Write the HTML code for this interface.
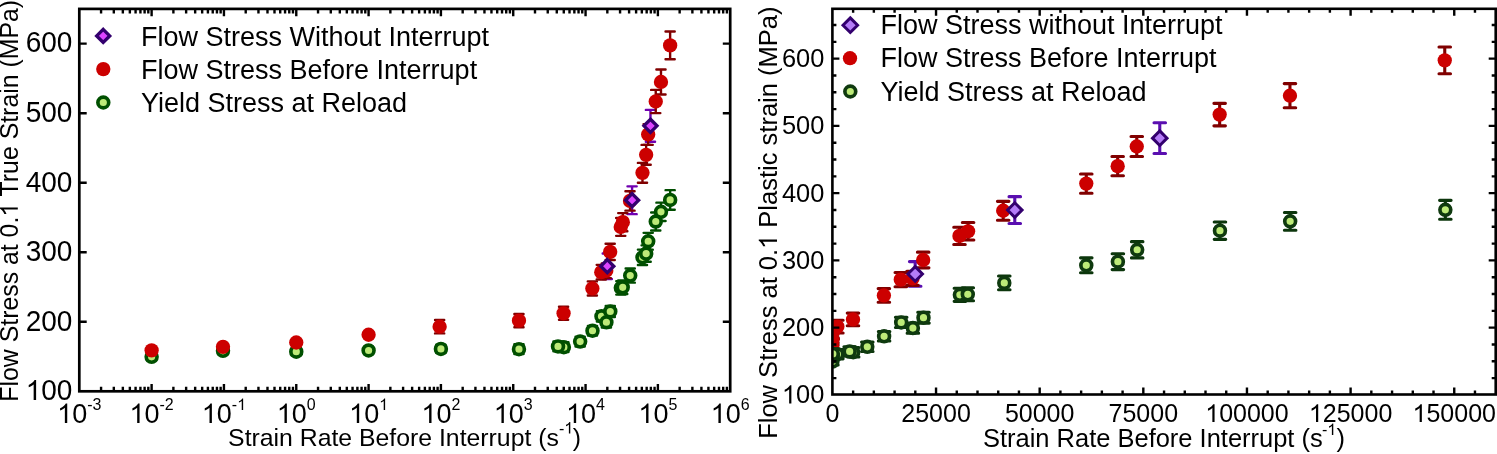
<!DOCTYPE html><html><head><meta charset="utf-8"><style>html,body{margin:0;padding:0;background:#fff;overflow:hidden}svg{display:block;will-change:transform}text{font-family:"Liberation Sans", sans-serif}</style></head><body>
<svg width="1497" height="454" viewBox="0 0 1497 454">
<rect width="1497" height="454" fill="#fff"/>
<defs><clipPath id="cl"><rect x="79.3" y="8.9" width="650.9" height="382.4"/></clipPath>
<clipPath id="cr"><rect x="832.4" y="8.8" width="663.3" height="385.7"/></clipPath></defs>
<g clip-path="url(#cl)">
<path d="M151.62 353.34V360.29M147.02 353.34H156.22M147.02 360.29H156.22" stroke="#004d00" stroke-width="2.4" fill="none" stroke-linecap="round"/>
<path d="M222.99 347.36V354.31M218.39 347.36H227.59M218.39 354.31H227.59" stroke="#004d00" stroke-width="2.4" fill="none" stroke-linecap="round"/>
<path d="M296.27 348.19V355.15M291.67 348.19H300.87M291.67 355.15H300.87" stroke="#004d00" stroke-width="2.4" fill="none" stroke-linecap="round"/>
<path d="M368.59 347.01V353.96M363.99 347.01H373.19M363.99 353.96H373.19" stroke="#004d00" stroke-width="2.4" fill="none" stroke-linecap="round"/>
<path d="M440.91 344.72V353.06M436.31 344.72H445.51M436.31 353.06H445.51" stroke="#004d00" stroke-width="2.4" fill="none" stroke-linecap="round"/>
<path d="M518.96 344.3V354.03M514.36 344.3H523.56M514.36 354.03H523.56" stroke="#004d00" stroke-width="2.4" fill="none" stroke-linecap="round"/>
<path d="M563.86 342.28V352.02M559.26 342.28H568.46M559.26 352.02H568.46" stroke="#004d00" stroke-width="2.4" fill="none" stroke-linecap="round"/>
<path d="M558.01 341.52V351.25M553.41 341.52H562.61M553.41 351.25H562.61" stroke="#004d00" stroke-width="2.4" fill="none" stroke-linecap="round"/>
<path d="M580.15 336.72V346.45M575.55 336.72H584.75M575.55 346.45H584.75" stroke="#004d00" stroke-width="2.4" fill="none" stroke-linecap="round"/>
<path d="M592.49 325.87V335.61M587.89 325.87H597.09M587.89 335.61H597.09" stroke="#004d00" stroke-width="2.4" fill="none" stroke-linecap="round"/>
<path d="M601.46 311.14V321.56M596.86 311.14H606.06M596.86 321.56H606.06" stroke="#004d00" stroke-width="2.4" fill="none" stroke-linecap="round"/>
<path d="M606.4 317.04V327.47M601.8 317.04H611M601.8 327.47H611" stroke="#004d00" stroke-width="2.4" fill="none" stroke-linecap="round"/>
<path d="M610.28 305.92V317.04M605.68 305.92H614.88M605.68 317.04H614.88" stroke="#004d00" stroke-width="2.4" fill="none" stroke-linecap="round"/>
<path d="M620.84 281.1V294.59M616.24 281.1H625.44M616.24 294.59H625.44" stroke="#004d00" stroke-width="2.4" fill="none" stroke-linecap="round"/>
<path d="M622.73 280.54V294.03M618.13 280.54H627.33M618.13 294.03H627.33" stroke="#004d00" stroke-width="2.4" fill="none" stroke-linecap="round"/>
<path d="M630.22 268.45V282.63M625.62 268.45H634.82M625.62 282.63H634.82" stroke="#004d00" stroke-width="2.4" fill="none" stroke-linecap="round"/>
<path d="M642.48 249.6V265.04M637.88 249.6H647.08M637.88 265.04H647.08" stroke="#004d00" stroke-width="2.4" fill="none" stroke-linecap="round"/>
<path d="M646.16 245.36V261.77M641.56 245.36H650.76M641.56 261.77H650.76" stroke="#004d00" stroke-width="2.4" fill="none" stroke-linecap="round"/>
<path d="M648.21 232.85V249.67M643.61 232.85H652.81M643.61 249.67H652.81" stroke="#004d00" stroke-width="2.4" fill="none" stroke-linecap="round"/>
<path d="M655.76 212.55V230.48M651.16 212.55H660.36M651.16 230.48H660.36" stroke="#004d00" stroke-width="2.4" fill="none" stroke-linecap="round"/>
<path d="M660.99 202.67V221.03M656.39 202.67H665.59M656.39 221.03H665.59" stroke="#004d00" stroke-width="2.4" fill="none" stroke-linecap="round"/>
<path d="M670.16 190.16V209.76M665.56 190.16H674.76M665.56 209.76H674.76" stroke="#004d00" stroke-width="2.4" fill="none" stroke-linecap="round"/>
<circle cx="151.62" cy="356.81" r="5.42" fill="#bdeb78" stroke="#005000" stroke-width="3.65"/>
<circle cx="222.99" cy="350.84" r="5.42" fill="#bdeb78" stroke="#005000" stroke-width="3.65"/>
<circle cx="296.27" cy="351.67" r="5.42" fill="#bdeb78" stroke="#005000" stroke-width="3.65"/>
<circle cx="368.59" cy="350.49" r="5.42" fill="#bdeb78" stroke="#005000" stroke-width="3.65"/>
<circle cx="440.91" cy="348.89" r="5.42" fill="#bdeb78" stroke="#005000" stroke-width="3.65"/>
<circle cx="518.96" cy="349.17" r="5.42" fill="#bdeb78" stroke="#005000" stroke-width="3.65"/>
<circle cx="563.86" cy="347.15" r="5.42" fill="#bdeb78" stroke="#005000" stroke-width="3.65"/>
<circle cx="558.01" cy="346.39" r="5.42" fill="#bdeb78" stroke="#005000" stroke-width="3.65"/>
<circle cx="580.15" cy="341.59" r="5.42" fill="#bdeb78" stroke="#005000" stroke-width="3.65"/>
<circle cx="592.49" cy="330.74" r="5.42" fill="#bdeb78" stroke="#005000" stroke-width="3.65"/>
<circle cx="601.46" cy="316.35" r="5.42" fill="#bdeb78" stroke="#005000" stroke-width="3.65"/>
<circle cx="606.4" cy="322.26" r="5.42" fill="#bdeb78" stroke="#005000" stroke-width="3.65"/>
<circle cx="610.28" cy="311.48" r="5.42" fill="#bdeb78" stroke="#005000" stroke-width="3.65"/>
<circle cx="620.84" cy="287.84" r="5.42" fill="#bdeb78" stroke="#005000" stroke-width="3.65"/>
<circle cx="622.73" cy="287.29" r="5.42" fill="#bdeb78" stroke="#005000" stroke-width="3.65"/>
<circle cx="630.22" cy="275.54" r="5.42" fill="#bdeb78" stroke="#005000" stroke-width="3.65"/>
<circle cx="642.48" cy="257.32" r="5.42" fill="#bdeb78" stroke="#005000" stroke-width="3.65"/>
<circle cx="646.16" cy="253.57" r="5.42" fill="#bdeb78" stroke="#005000" stroke-width="3.65"/>
<circle cx="648.21" cy="241.26" r="5.42" fill="#bdeb78" stroke="#005000" stroke-width="3.65"/>
<circle cx="655.76" cy="221.51" r="5.42" fill="#bdeb78" stroke="#005000" stroke-width="3.65"/>
<circle cx="660.99" cy="211.85" r="5.42" fill="#bdeb78" stroke="#005000" stroke-width="3.65"/>
<circle cx="670.16" cy="199.96" r="5.42" fill="#bdeb78" stroke="#005000" stroke-width="3.65"/>
<path d="M607.28 253.5V278.94M602.68 253.5H611.88M602.68 278.94H611.88" stroke="#7000b0" stroke-width="2.4" fill="none" stroke-linecap="round"/>
<path d="M632.09 186.33V214.14M627.49 186.33H636.69M627.49 214.14H636.69" stroke="#7000b0" stroke-width="2.4" fill="none" stroke-linecap="round"/>
<path d="M650.46 109.92V141.77M645.86 109.92H655.06M645.86 141.77H655.06" stroke="#7000b0" stroke-width="2.4" fill="none" stroke-linecap="round"/>
<path d="M151.62 347.57V353.13M147.02 347.57H156.22M147.02 353.13H156.22" stroke="#800000" stroke-width="2.4" fill="none" stroke-linecap="round"/>
<path d="M222.99 344.09V349.65M218.39 344.09H227.59M218.39 349.65H227.59" stroke="#800000" stroke-width="2.4" fill="none" stroke-linecap="round"/>
<path d="M296.27 339.71V345.27M291.67 339.71H300.87M291.67 345.27H300.87" stroke="#800000" stroke-width="2.4" fill="none" stroke-linecap="round"/>
<path d="M368.59 331.99V337.56M363.99 331.99H373.19M363.99 337.56H373.19" stroke="#800000" stroke-width="2.4" fill="none" stroke-linecap="round"/>
<path d="M439.63 320.03V333.38M435.03 320.03H444.23M435.03 333.38H444.23" stroke="#800000" stroke-width="2.4" fill="none" stroke-linecap="round"/>
<path d="M518.96 314.06V327.27M514.36 314.06H523.56M514.36 327.27H523.56" stroke="#800000" stroke-width="2.4" fill="none" stroke-linecap="round"/>
<path d="M563.57 306.75V319.83M558.97 306.75H568.17M558.97 319.83H568.17" stroke="#800000" stroke-width="2.4" fill="none" stroke-linecap="round"/>
<path d="M592.36 281.38V295.56M587.76 281.38H596.96M587.76 295.56H596.96" stroke="#800000" stroke-width="2.4" fill="none" stroke-linecap="round"/>
<path d="M601.28 264.83V279.43M596.68 264.83H605.88M596.68 279.43H605.88" stroke="#800000" stroke-width="2.4" fill="none" stroke-linecap="round"/>
<path d="M606.26 263.51V278.11M601.66 263.51H610.86M601.66 278.11H610.86" stroke="#800000" stroke-width="2.4" fill="none" stroke-linecap="round"/>
<path d="M610.18 243.69V259.96M605.58 243.69H614.78M605.58 259.96H614.78" stroke="#800000" stroke-width="2.4" fill="none" stroke-linecap="round"/>
<path d="M620.74 218.04V235.84M616.14 218.04H625.34M616.14 235.84H625.34" stroke="#800000" stroke-width="2.4" fill="none" stroke-linecap="round"/>
<path d="M622.8 213.1V231.18M618.2 213.1H627.4M618.2 231.18H627.4" stroke="#800000" stroke-width="2.4" fill="none" stroke-linecap="round"/>
<path d="M630.02 191.2V210.67M625.42 191.2H634.62M625.42 210.67H634.62" stroke="#800000" stroke-width="2.4" fill="none" stroke-linecap="round"/>
<path d="M642.48 162.9V182.79M637.88 162.9H647.08M637.88 182.79H647.08" stroke="#800000" stroke-width="2.4" fill="none" stroke-linecap="round"/>
<path d="M646.14 144.9V164.78M641.54 144.9H650.74M641.54 164.78H650.74" stroke="#800000" stroke-width="2.4" fill="none" stroke-linecap="round"/>
<path d="M648.17 124.11V144.83M643.57 124.11H652.77M643.57 144.83H652.77" stroke="#800000" stroke-width="2.4" fill="none" stroke-linecap="round"/>
<path d="M655.74 89.9V113.12M651.14 89.9H660.34M651.14 113.12H660.34" stroke="#800000" stroke-width="2.4" fill="none" stroke-linecap="round"/>
<path d="M660.98 69.46V94.49M656.38 69.46H665.58M656.38 94.49H665.58" stroke="#800000" stroke-width="2.4" fill="none" stroke-linecap="round"/>
<path d="M670.13 31.57V59.24M665.53 31.57H674.73M665.53 59.24H674.73" stroke="#800000" stroke-width="2.4" fill="none" stroke-linecap="round"/>
<circle cx="151.62" cy="350.35" r="7.15" fill="#cc0000"/>
<circle cx="222.99" cy="346.87" r="7.15" fill="#cc0000"/>
<circle cx="296.27" cy="342.49" r="7.15" fill="#cc0000"/>
<circle cx="368.59" cy="334.77" r="7.15" fill="#cc0000"/>
<circle cx="439.63" cy="326.71" r="7.15" fill="#cc0000"/>
<circle cx="518.96" cy="320.66" r="7.15" fill="#cc0000"/>
<circle cx="563.57" cy="313.29" r="7.15" fill="#cc0000"/>
<circle cx="592.36" cy="288.47" r="7.15" fill="#cc0000"/>
<circle cx="601.28" cy="272.13" r="7.15" fill="#cc0000"/>
<circle cx="606.26" cy="270.81" r="7.15" fill="#cc0000"/>
<circle cx="610.18" cy="251.83" r="7.15" fill="#cc0000"/>
<circle cx="620.74" cy="226.94" r="7.15" fill="#cc0000"/>
<circle cx="622.8" cy="222.14" r="7.15" fill="#cc0000"/>
<circle cx="630.02" cy="200.93" r="7.15" fill="#cc0000"/>
<circle cx="642.48" cy="172.85" r="7.15" fill="#cc0000"/>
<circle cx="646.14" cy="154.84" r="7.15" fill="#cc0000"/>
<circle cx="648.17" cy="134.47" r="7.15" fill="#cc0000"/>
<circle cx="655.74" cy="101.51" r="7.15" fill="#cc0000"/>
<circle cx="660.98" cy="81.97" r="7.15" fill="#cc0000"/>
<circle cx="670.13" cy="45.4" r="7.15" fill="#cc0000"/>
<path d="M607.28 259.67L613.83 266.22L607.28 272.77L600.73 266.22Z" fill="#dd44ff" stroke="#33006e" stroke-width="3.3" stroke-linejoin="miter"/>
<path d="M632.09 193.69L638.64 200.24L632.09 206.79L625.54 200.24Z" fill="#dd44ff" stroke="#33006e" stroke-width="3.3" stroke-linejoin="miter"/>
<path d="M650.46 119.29L657.01 125.84L650.46 132.39L643.91 125.84Z" fill="#dd44ff" stroke="#33006e" stroke-width="3.3" stroke-linejoin="miter"/>
</g>
<path d="M101.07 391.3v-4.6M101.07 8.9v4.6M113.81 391.3v-4.6M113.81 8.9v4.6M122.84 391.3v-4.6M122.84 8.9v4.6M129.85 391.3v-4.6M129.85 8.9v4.6M135.58 391.3v-4.6M135.58 8.9v4.6M140.42 391.3v-4.6M140.42 8.9v4.6M144.61 391.3v-4.6M144.61 8.9v4.6M148.31 391.3v-4.6M148.31 8.9v4.6M151.62 391.3v-7.3M151.62 8.9v7.3M173.39 391.3v-4.6M173.39 8.9v4.6M186.13 391.3v-4.6M186.13 8.9v4.6M195.16 391.3v-4.6M195.16 8.9v4.6M202.17 391.3v-4.6M202.17 8.9v4.6M207.9 391.3v-4.6M207.9 8.9v4.6M212.74 391.3v-4.6M212.74 8.9v4.6M216.94 391.3v-4.6M216.94 8.9v4.6M220.64 391.3v-4.6M220.64 8.9v4.6M223.94 391.3v-7.3M223.94 8.9v7.3M245.72 391.3v-4.6M245.72 8.9v4.6M258.45 391.3v-4.6M258.45 8.9v4.6M267.49 391.3v-4.6M267.49 8.9v4.6M274.5 391.3v-4.6M274.5 8.9v4.6M280.22 391.3v-4.6M280.22 8.9v4.6M285.06 391.3v-4.6M285.06 8.9v4.6M289.26 391.3v-4.6M289.26 8.9v4.6M292.96 391.3v-4.6M292.96 8.9v4.6M296.27 391.3v-7.3M296.27 8.9v7.3M318.04 391.3v-4.6M318.04 8.9v4.6M330.77 391.3v-4.6M330.77 8.9v4.6M339.81 391.3v-4.6M339.81 8.9v4.6M346.82 391.3v-4.6M346.82 8.9v4.6M352.54 391.3v-4.6M352.54 8.9v4.6M357.39 391.3v-4.6M357.39 8.9v4.6M361.58 391.3v-4.6M361.58 8.9v4.6M365.28 391.3v-4.6M365.28 8.9v4.6M368.59 391.3v-7.3M368.59 8.9v7.3M390.36 391.3v-4.6M390.36 8.9v4.6M403.1 391.3v-4.6M403.1 8.9v4.6M412.13 391.3v-4.6M412.13 8.9v4.6M419.14 391.3v-4.6M419.14 8.9v4.6M424.87 391.3v-4.6M424.87 8.9v4.6M429.71 391.3v-4.6M429.71 8.9v4.6M433.9 391.3v-4.6M433.9 8.9v4.6M437.6 391.3v-4.6M437.6 8.9v4.6M440.91 391.3v-7.3M440.91 8.9v7.3M462.68 391.3v-4.6M462.68 8.9v4.6M475.42 391.3v-4.6M475.42 8.9v4.6M484.45 391.3v-4.6M484.45 8.9v4.6M491.46 391.3v-4.6M491.46 8.9v4.6M497.19 391.3v-4.6M497.19 8.9v4.6M502.03 391.3v-4.6M502.03 8.9v4.6M506.22 391.3v-4.6M506.22 8.9v4.6M509.92 391.3v-4.6M509.92 8.9v4.6M513.23 391.3v-7.3M513.23 8.9v7.3M535 391.3v-4.6M535 8.9v4.6M547.74 391.3v-4.6M547.74 8.9v4.6M556.78 391.3v-4.6M556.78 8.9v4.6M563.78 391.3v-4.6M563.78 8.9v4.6M569.51 391.3v-4.6M569.51 8.9v4.6M574.35 391.3v-4.6M574.35 8.9v4.6M578.55 391.3v-4.6M578.55 8.9v4.6M582.25 391.3v-4.6M582.25 8.9v4.6M585.56 391.3v-7.3M585.56 8.9v7.3M607.33 391.3v-4.6M607.33 8.9v4.6M620.06 391.3v-4.6M620.06 8.9v4.6M629.1 391.3v-4.6M629.1 8.9v4.6M636.11 391.3v-4.6M636.11 8.9v4.6M641.83 391.3v-4.6M641.83 8.9v4.6M646.67 391.3v-4.6M646.67 8.9v4.6M650.87 391.3v-4.6M650.87 8.9v4.6M654.57 391.3v-4.6M654.57 8.9v4.6M657.88 391.3v-7.3M657.88 8.9v7.3M679.65 391.3v-4.6M679.65 8.9v4.6M692.38 391.3v-4.6M692.38 8.9v4.6M701.42 391.3v-4.6M701.42 8.9v4.6M708.43 391.3v-4.6M708.43 8.9v4.6M714.16 391.3v-4.6M714.16 8.9v4.6M719 391.3v-4.6M719 8.9v4.6M723.19 391.3v-4.6M723.19 8.9v4.6M726.89 391.3v-4.6M726.89 8.9v4.6M79.3 321.77h7.4M730.2 321.77h-7.4M79.3 252.25h7.4M730.2 252.25h-7.4M79.3 182.72h7.4M730.2 182.72h-7.4M79.3 113.19h7.4M730.2 113.19h-7.4M79.3 43.66h7.4M730.2 43.66h-7.4" stroke="#000" stroke-width="2.4" fill="none"/>
<rect x="79.3" y="8.9" width="650.9" height="382.4" fill="none" stroke="#000" stroke-width="2.7"/>
<text transform="translate(25.68 400.1) scale(1 1.04)" font-size="28"> 00</text><path d="M763 0L583 0L583 1147Q518 1085 421 1028Q324 971 222 933L222 1107Q390 1186 499 1282Q608 1379 654 1466L763 1466Z" transform="matrix(0.013672 0 0 -0.013672 25.68 400.1)"/>
<text transform="translate(25.68 330.57) scale(1 1.04)" font-size="28">200</text>
<text transform="translate(25.68 261.05) scale(1 1.04)" font-size="28">300</text>
<text transform="translate(25.68 191.52) scale(1 1.04)" font-size="28">400</text>
<text transform="translate(25.68 121.99) scale(1 1.04)" font-size="28">500</text>
<text transform="translate(25.68 52.46) scale(1 1.04)" font-size="28">600</text>
<text transform="translate(57.17 422.9) scale(1 1.04)" font-size="27"> 0</text><path d="M763 0L583 0L583 1147Q518 1085 421 1028Q324 971 222 933L222 1107Q390 1186 499 1282Q608 1379 654 1466L763 1466Z" transform="matrix(0.013184 0 0 -0.013184 57.17 422.9)"/>
<text transform="translate(87.2 409.9) scale(1 1.04)" font-size="16">-3</text>
<text transform="translate(129.49 422.9) scale(1 1.04)" font-size="27"> 0</text><path d="M763 0L583 0L583 1147Q518 1085 421 1028Q324 971 222 933L222 1107Q390 1186 499 1282Q608 1379 654 1466L763 1466Z" transform="matrix(0.013184 0 0 -0.013184 129.49 422.9)"/>
<text transform="translate(159.53 409.9) scale(1 1.04)" font-size="16">-2</text>
<text transform="translate(201.82 422.9) scale(1 1.04)" font-size="27"> 0</text><path d="M763 0L583 0L583 1147Q518 1085 421 1028Q324 971 222 933L222 1107Q390 1186 499 1282Q608 1379 654 1466L763 1466Z" transform="matrix(0.013184 0 0 -0.013184 201.82 422.9)"/>
<text transform="translate(231.85 409.9) scale(1 1.04)" font-size="16">- </text><path d="M763 0L583 0L583 1147Q518 1085 421 1028Q324 971 222 933L222 1107Q390 1186 499 1282Q608 1379 654 1466L763 1466Z" transform="matrix(0.007812 0 0 -0.007812 237.18 409.9)"/>
<text transform="translate(276.8 422.9) scale(1 1.04)" font-size="27"> 0</text><path d="M763 0L583 0L583 1147Q518 1085 421 1028Q324 971 222 933L222 1107Q390 1186 499 1282Q608 1379 654 1466L763 1466Z" transform="matrix(0.013184 0 0 -0.013184 276.8 422.9)"/>
<text transform="translate(306.83 409.9) scale(1 1.04)" font-size="16">0</text>
<text transform="translate(349.12 422.9) scale(1 1.04)" font-size="27"> 0</text><path d="M763 0L583 0L583 1147Q518 1085 421 1028Q324 971 222 933L222 1107Q390 1186 499 1282Q608 1379 654 1466L763 1466Z" transform="matrix(0.013184 0 0 -0.013184 349.12 422.9)"/>
<text transform="translate(379.16 409.9) scale(1 1.04)" font-size="16"> </text><path d="M763 0L583 0L583 1147Q518 1085 421 1028Q324 971 222 933L222 1107Q390 1186 499 1282Q608 1379 654 1466L763 1466Z" transform="matrix(0.007812 0 0 -0.007812 379.16 409.9)"/>
<text transform="translate(421.45 422.9) scale(1 1.04)" font-size="27"> 0</text><path d="M763 0L583 0L583 1147Q518 1085 421 1028Q324 971 222 933L222 1107Q390 1186 499 1282Q608 1379 654 1466L763 1466Z" transform="matrix(0.013184 0 0 -0.013184 421.45 422.9)"/>
<text transform="translate(451.48 409.9) scale(1 1.04)" font-size="16">2</text>
<text transform="translate(493.77 422.9) scale(1 1.04)" font-size="27"> 0</text><path d="M763 0L583 0L583 1147Q518 1085 421 1028Q324 971 222 933L222 1107Q390 1186 499 1282Q608 1379 654 1466L763 1466Z" transform="matrix(0.013184 0 0 -0.013184 493.77 422.9)"/>
<text transform="translate(523.8 409.9) scale(1 1.04)" font-size="16">3</text>
<text transform="translate(566.09 422.9) scale(1 1.04)" font-size="27"> 0</text><path d="M763 0L583 0L583 1147Q518 1085 421 1028Q324 971 222 933L222 1107Q390 1186 499 1282Q608 1379 654 1466L763 1466Z" transform="matrix(0.013184 0 0 -0.013184 566.09 422.9)"/>
<text transform="translate(596.12 409.9) scale(1 1.04)" font-size="16">4</text>
<text transform="translate(638.41 422.9) scale(1 1.04)" font-size="27"> 0</text><path d="M763 0L583 0L583 1147Q518 1085 421 1028Q324 971 222 933L222 1107Q390 1186 499 1282Q608 1379 654 1466L763 1466Z" transform="matrix(0.013184 0 0 -0.013184 638.41 422.9)"/>
<text transform="translate(668.44 409.9) scale(1 1.04)" font-size="16">5</text>
<text transform="translate(710.73 422.9) scale(1 1.04)" font-size="27"> 0</text><path d="M763 0L583 0L583 1147Q518 1085 421 1028Q324 971 222 933L222 1107Q390 1186 499 1282Q608 1379 654 1466L763 1466Z" transform="matrix(0.013184 0 0 -0.013184 710.73 422.9)"/>
<text transform="translate(740.77 409.9) scale(1 1.04)" font-size="16">6</text>
<text x="228.1" y="446" font-size="24.8">Strain Rate Before Interrupt (s</text>
<text transform="translate(559 433.5) scale(1 1)" font-size="16">- </text><path d="M763 0L583 0L583 1147Q518 1085 421 1028Q324 971 222 933L222 1107Q390 1186 499 1282Q608 1379 654 1466L763 1466Z" transform="matrix(0.007812 0 0 -0.007812 564.33 433.5)"/>
<text x="572.8" y="446" font-size="24.8">)</text>
<g transform="translate(17.8 401.7) rotate(-90)"><text font-size="24.85">Flow Stress at 0.  True Strain (MPa)</text><path d="M763 0L583 0L583 1147Q518 1085 421 1028Q324 971 222 933L222 1107Q390 1186 499 1282Q608 1379 654 1466L763 1466Z" transform="matrix(0.012134 0 0 -0.012134 185.04 0)"/></g>
<path d="M103.2 29.35L109.75 35.9L103.2 42.45L96.65 35.9Z" fill="#dd44ff" stroke="#33006e" stroke-width="3.3" stroke-linejoin="miter"/>
<circle cx="103.3" cy="69.1" r="7.15" fill="#cc0000"/>
<circle cx="103.3" cy="102.5" r="5.42" fill="#bdeb78" stroke="#005000" stroke-width="3.65"/>
<text x="141" y="45.9" font-size="27">Flow Stress Without Interrupt</text>
<text x="141" y="79" font-size="27">Flow Stress Before Interrupt</text>
<text x="141" y="112" font-size="27">Yield Stress at Reload</text>
<g clip-path="url(#cr)">
<path d="M915.19 261.61V286.22M909.44 261.61H920.94M909.44 286.22H920.94" stroke="#5a0fb0" stroke-width="3.1" fill="none" stroke-linecap="round"/>
<path d="M1014.78 196.65V223.55M1009.03 196.65H1020.53M1009.03 223.55H1020.53" stroke="#5a0fb0" stroke-width="3.1" fill="none" stroke-linecap="round"/>
<path d="M1159.77 122.74V153.54M1154.02 122.74H1165.52M1154.02 153.54H1165.52" stroke="#5a0fb0" stroke-width="3.1" fill="none" stroke-linecap="round"/>
<path d="M832.4 352.6V357.98M826.65 352.6H838.15M826.65 357.98H838.15" stroke="#800000" stroke-width="3.1" fill="none" stroke-linecap="round"/>
<path d="M832.4 349.24V354.62M826.65 349.24H838.15M826.65 354.62H838.15" stroke="#800000" stroke-width="3.1" fill="none" stroke-linecap="round"/>
<path d="M832.4 345V350.38M826.65 345H838.15M826.65 350.38H838.15" stroke="#800000" stroke-width="3.1" fill="none" stroke-linecap="round"/>
<path d="M832.44 337.54V342.92M826.69 337.54H838.19M826.69 342.92H838.19" stroke="#800000" stroke-width="3.1" fill="none" stroke-linecap="round"/>
<path d="M832.8 325.97V338.88M827.05 325.97H838.55M827.05 338.88H838.55" stroke="#800000" stroke-width="3.1" fill="none" stroke-linecap="round"/>
<path d="M837.37 320.19V332.96M831.62 320.19H843.12M831.62 332.96H843.12" stroke="#800000" stroke-width="3.1" fill="none" stroke-linecap="round"/>
<path d="M852.99 313.12V325.77M847.24 313.12H858.74M847.24 325.77H858.74" stroke="#800000" stroke-width="3.1" fill="none" stroke-linecap="round"/>
<path d="M883.89 288.58V302.3M878.14 288.58H889.64M878.14 302.3H889.64" stroke="#800000" stroke-width="3.1" fill="none" stroke-linecap="round"/>
<path d="M900.79 272.57V286.69M895.04 272.57H906.54M895.04 286.69H906.54" stroke="#800000" stroke-width="3.1" fill="none" stroke-linecap="round"/>
<path d="M912.53 271.29V285.42M906.78 271.29H918.28M906.78 285.42H918.28" stroke="#800000" stroke-width="3.1" fill="none" stroke-linecap="round"/>
<path d="M923.19 252.13V267.86M917.44 252.13H928.94M917.44 267.86H928.94" stroke="#800000" stroke-width="3.1" fill="none" stroke-linecap="round"/>
<path d="M959.49 227.31V244.53M953.74 227.31H965.24M953.74 244.53H965.24" stroke="#800000" stroke-width="3.1" fill="none" stroke-linecap="round"/>
<path d="M968.09 222.54V240.02M962.34 222.54H973.84M962.34 240.02H973.84" stroke="#800000" stroke-width="3.1" fill="none" stroke-linecap="round"/>
<path d="M1003.19 201.35V220.18M997.44 201.35H1008.94M997.44 220.18H1008.94" stroke="#800000" stroke-width="3.1" fill="none" stroke-linecap="round"/>
<path d="M1086.28 173.98V193.22M1080.53 173.98H1092.03M1080.53 193.22H1092.03" stroke="#800000" stroke-width="3.1" fill="none" stroke-linecap="round"/>
<path d="M1117.68 156.57V175.8M1111.93 156.57H1123.43M1111.93 175.8H1123.43" stroke="#800000" stroke-width="3.1" fill="none" stroke-linecap="round"/>
<path d="M1136.77 136.46V156.5M1131.02 136.46H1142.52M1131.02 156.5H1142.52" stroke="#800000" stroke-width="3.1" fill="none" stroke-linecap="round"/>
<path d="M1219.66 103.37V125.83M1213.91 103.37H1225.41M1213.91 125.83H1225.41" stroke="#800000" stroke-width="3.1" fill="none" stroke-linecap="round"/>
<path d="M1289.95 83.6V107.81M1284.2 83.6H1295.7M1284.2 107.81H1295.7" stroke="#800000" stroke-width="3.1" fill="none" stroke-linecap="round"/>
<path d="M1444.75 46.95V73.71M1439 46.95H1450.5M1439 73.71H1450.5" stroke="#800000" stroke-width="3.1" fill="none" stroke-linecap="round"/>
<circle cx="832.4" cy="355.29" r="7.15" fill="#cc0000"/>
<circle cx="832.4" cy="351.93" r="7.15" fill="#cc0000"/>
<circle cx="832.4" cy="347.69" r="7.15" fill="#cc0000"/>
<circle cx="832.44" cy="340.23" r="7.15" fill="#cc0000"/>
<circle cx="832.8" cy="332.42" r="7.15" fill="#cc0000"/>
<circle cx="837.37" cy="326.57" r="7.15" fill="#cc0000"/>
<circle cx="852.99" cy="319.45" r="7.15" fill="#cc0000"/>
<circle cx="883.89" cy="295.44" r="7.15" fill="#cc0000"/>
<circle cx="900.79" cy="279.63" r="7.15" fill="#cc0000"/>
<circle cx="912.53" cy="278.36" r="7.15" fill="#cc0000"/>
<circle cx="923.19" cy="260" r="7.15" fill="#cc0000"/>
<circle cx="959.49" cy="235.92" r="7.15" fill="#cc0000"/>
<circle cx="968.09" cy="231.28" r="7.15" fill="#cc0000"/>
<circle cx="1003.19" cy="210.77" r="7.15" fill="#cc0000"/>
<circle cx="1086.28" cy="183.6" r="7.15" fill="#cc0000"/>
<circle cx="1117.68" cy="166.18" r="7.15" fill="#cc0000"/>
<circle cx="1136.77" cy="146.48" r="7.15" fill="#cc0000"/>
<circle cx="1219.66" cy="114.6" r="7.15" fill="#cc0000"/>
<circle cx="1289.95" cy="95.7" r="7.15" fill="#cc0000"/>
<circle cx="1444.75" cy="60.33" r="7.15" fill="#cc0000"/>
<path d="M915.19 266.62L922.49 273.92L915.19 281.22L907.89 273.92Z" fill="#b57cf8" stroke="#33006e" stroke-width="2.95" stroke-linejoin="miter"/>
<path d="M1014.78 202.8L1022.08 210.1L1014.78 217.4L1007.48 210.1Z" fill="#b57cf8" stroke="#33006e" stroke-width="2.95" stroke-linejoin="miter"/>
<path d="M1159.77 130.84L1167.07 138.14L1159.77 145.44L1152.47 138.14Z" fill="#b57cf8" stroke="#33006e" stroke-width="2.95" stroke-linejoin="miter"/>
<path d="M837.37 349.44V358.85M831.62 349.44H843.12M831.62 358.85H843.12" stroke="#0c360c" stroke-width="3.1" fill="none" stroke-linecap="round"/>
<path d="M832.4 358.18V364.91M826.65 358.18H838.15M826.65 364.91H838.15" stroke="#0c360c" stroke-width="3.1" fill="none" stroke-linecap="round"/>
<path d="M832.4 352.4V359.12M826.65 352.4H838.15M826.65 359.12H838.15" stroke="#0c360c" stroke-width="3.1" fill="none" stroke-linecap="round"/>
<path d="M832.4 353.2V359.93M826.65 353.2H838.15M826.65 359.93H838.15" stroke="#0c360c" stroke-width="3.1" fill="none" stroke-linecap="round"/>
<path d="M832.44 352.06V358.79M826.69 352.06H838.19M826.69 358.79H838.19" stroke="#0c360c" stroke-width="3.1" fill="none" stroke-linecap="round"/>
<path d="M832.81 349.84V357.91M827.06 349.84H838.56M827.06 357.91H838.56" stroke="#0c360c" stroke-width="3.1" fill="none" stroke-linecap="round"/>
<path d="M853.18 347.49V356.9M847.43 347.49H858.93M847.43 356.9H858.93" stroke="#0c360c" stroke-width="3.1" fill="none" stroke-linecap="round"/>
<path d="M849.65 346.75V356.16M843.9 346.75H855.4M843.9 356.16H855.4" stroke="#0c360c" stroke-width="3.1" fill="none" stroke-linecap="round"/>
<path d="M867.3 342.11V351.52M861.55 342.11H873.05M861.55 351.52H873.05" stroke="#0c360c" stroke-width="3.1" fill="none" stroke-linecap="round"/>
<path d="M884.1 331.62V341.03M878.35 331.62H889.85M878.35 341.03H889.85" stroke="#0c360c" stroke-width="3.1" fill="none" stroke-linecap="round"/>
<path d="M901.19 317.36V327.45M895.44 317.36H906.94M895.44 327.45H906.94" stroke="#0c360c" stroke-width="3.1" fill="none" stroke-linecap="round"/>
<path d="M912.89 323.08V333.16M907.14 323.08H918.64M907.14 333.16H918.64" stroke="#0c360c" stroke-width="3.1" fill="none" stroke-linecap="round"/>
<path d="M923.49 312.32V323.08M917.74 312.32H929.24M917.74 323.08H929.24" stroke="#0c360c" stroke-width="3.1" fill="none" stroke-linecap="round"/>
<path d="M959.89 288.31V301.36M954.14 288.31H965.64M954.14 301.36H965.64" stroke="#0c360c" stroke-width="3.1" fill="none" stroke-linecap="round"/>
<path d="M967.79 287.77V300.82M962.04 287.77H973.54M962.04 300.82H973.54" stroke="#0c360c" stroke-width="3.1" fill="none" stroke-linecap="round"/>
<path d="M1004.28 276.07V289.79M998.53 276.07H1010.03M998.53 289.79H1010.03" stroke="#0c360c" stroke-width="3.1" fill="none" stroke-linecap="round"/>
<path d="M1086.28 257.84V272.77M1080.53 257.84H1092.03M1080.53 272.77H1092.03" stroke="#0c360c" stroke-width="3.1" fill="none" stroke-linecap="round"/>
<path d="M1117.88 253.74V269.61M1112.13 253.74H1123.63M1112.13 269.61H1123.63" stroke="#0c360c" stroke-width="3.1" fill="none" stroke-linecap="round"/>
<path d="M1137.17 241.64V257.91M1131.42 241.64H1142.92M1131.42 257.91H1142.92" stroke="#0c360c" stroke-width="3.1" fill="none" stroke-linecap="round"/>
<path d="M1219.96 222V239.35M1214.21 222H1225.71M1214.21 239.35H1225.71" stroke="#0c360c" stroke-width="3.1" fill="none" stroke-linecap="round"/>
<path d="M1290.16 212.45V230.2M1284.41 212.45H1295.91M1284.41 230.2H1295.91" stroke="#0c360c" stroke-width="3.1" fill="none" stroke-linecap="round"/>
<path d="M1445.34 200.35V219.31M1439.59 200.35H1451.09M1439.59 219.31H1451.09" stroke="#0c360c" stroke-width="3.1" fill="none" stroke-linecap="round"/>
<circle cx="837.37" cy="354.15" r="5.42" fill="#bdeb78" stroke="#0f3a0f" stroke-width="3.65"/>
<circle cx="832.4" cy="361.54" r="5.42" fill="#bdeb78" stroke="#0f3a0f" stroke-width="3.65"/>
<circle cx="832.4" cy="355.76" r="5.42" fill="#bdeb78" stroke="#0f3a0f" stroke-width="3.65"/>
<circle cx="832.4" cy="356.57" r="5.42" fill="#bdeb78" stroke="#0f3a0f" stroke-width="3.65"/>
<circle cx="832.44" cy="355.42" r="5.42" fill="#bdeb78" stroke="#0f3a0f" stroke-width="3.65"/>
<circle cx="832.81" cy="353.88" r="5.42" fill="#bdeb78" stroke="#0f3a0f" stroke-width="3.65"/>
<circle cx="853.18" cy="352.2" r="5.42" fill="#bdeb78" stroke="#0f3a0f" stroke-width="3.65"/>
<circle cx="849.65" cy="351.46" r="5.42" fill="#bdeb78" stroke="#0f3a0f" stroke-width="3.65"/>
<circle cx="867.3" cy="346.82" r="5.42" fill="#bdeb78" stroke="#0f3a0f" stroke-width="3.65"/>
<circle cx="884.1" cy="336.33" r="5.42" fill="#bdeb78" stroke="#0f3a0f" stroke-width="3.65"/>
<circle cx="901.19" cy="322.4" r="5.42" fill="#bdeb78" stroke="#0f3a0f" stroke-width="3.65"/>
<circle cx="912.89" cy="328.12" r="5.42" fill="#bdeb78" stroke="#0f3a0f" stroke-width="3.65"/>
<circle cx="923.49" cy="317.7" r="5.42" fill="#bdeb78" stroke="#0f3a0f" stroke-width="3.65"/>
<circle cx="959.89" cy="294.83" r="5.42" fill="#bdeb78" stroke="#0f3a0f" stroke-width="3.65"/>
<circle cx="967.79" cy="294.29" r="5.42" fill="#bdeb78" stroke="#0f3a0f" stroke-width="3.65"/>
<circle cx="1004.28" cy="282.93" r="5.42" fill="#bdeb78" stroke="#0f3a0f" stroke-width="3.65"/>
<circle cx="1086.28" cy="265.31" r="5.42" fill="#bdeb78" stroke="#0f3a0f" stroke-width="3.65"/>
<circle cx="1117.88" cy="261.68" r="5.42" fill="#bdeb78" stroke="#0f3a0f" stroke-width="3.65"/>
<circle cx="1137.17" cy="249.77" r="5.42" fill="#bdeb78" stroke="#0f3a0f" stroke-width="3.65"/>
<circle cx="1219.96" cy="230.68" r="5.42" fill="#bdeb78" stroke="#0f3a0f" stroke-width="3.65"/>
<circle cx="1290.16" cy="221.33" r="5.42" fill="#bdeb78" stroke="#0f3a0f" stroke-width="3.65"/>
<circle cx="1445.34" cy="209.83" r="5.42" fill="#bdeb78" stroke="#0f3a0f" stroke-width="3.65"/>
</g>
<path d="M853.13 394.5v-4M853.13 8.8v4M873.86 394.5v-4M873.86 8.8v4M894.58 394.5v-4M894.58 8.8v4M915.31 394.5v-4M915.31 8.8v4M936.04 394.5v-7M936.04 8.8v7M956.77 394.5v-4M956.77 8.8v4M977.5 394.5v-4M977.5 8.8v4M998.23 394.5v-4M998.23 8.8v4M1018.95 394.5v-4M1018.95 8.8v4M1039.68 394.5v-7M1039.68 8.8v7M1060.41 394.5v-4M1060.41 8.8v4M1081.14 394.5v-4M1081.14 8.8v4M1101.87 394.5v-4M1101.87 8.8v4M1122.59 394.5v-4M1122.59 8.8v4M1143.32 394.5v-7M1143.32 8.8v7M1164.05 394.5v-4M1164.05 8.8v4M1184.78 394.5v-4M1184.78 8.8v4M1205.51 394.5v-4M1205.51 8.8v4M1226.23 394.5v-4M1226.23 8.8v4M1246.96 394.5v-7M1246.96 8.8v7M1267.69 394.5v-4M1267.69 8.8v4M1288.42 394.5v-4M1288.42 8.8v4M1309.15 394.5v-4M1309.15 8.8v4M1329.88 394.5v-4M1329.88 8.8v4M1350.6 394.5v-7M1350.6 8.8v7M1371.33 394.5v-4M1371.33 8.8v4M1392.06 394.5v-4M1392.06 8.8v4M1412.79 394.5v-4M1412.79 8.8v4M1433.52 394.5v-4M1433.52 8.8v4M1454.24 394.5v-7M1454.24 8.8v7M1474.97 394.5v-4M1474.97 8.8v4M832.4 378.09h4M1495.7 378.09h-4M832.4 361.27h4M1495.7 361.27h-4M832.4 344.46h4M1495.7 344.46h-4M832.4 327.65h7M1495.7 327.65h-7M832.4 310.84h4M1495.7 310.84h-4M832.4 294.02h4M1495.7 294.02h-4M832.4 277.21h4M1495.7 277.21h-4M832.4 260.4h7M1495.7 260.4h-7M832.4 243.59h4M1495.7 243.59h-4M832.4 226.77h4M1495.7 226.77h-4M832.4 209.96h4M1495.7 209.96h-4M832.4 193.15h7M1495.7 193.15h-7M832.4 176.34h4M1495.7 176.34h-4M832.4 159.52h4M1495.7 159.52h-4M832.4 142.71h4M1495.7 142.71h-4M832.4 125.9h7M1495.7 125.9h-7M832.4 109.09h4M1495.7 109.09h-4M832.4 92.27h4M1495.7 92.27h-4M832.4 75.46h4M1495.7 75.46h-4M832.4 58.65h7M1495.7 58.65h-7M832.4 41.84h4M1495.7 41.84h-4M832.4 25.02h4M1495.7 25.02h-4" stroke="#000" stroke-width="2.4" fill="none"/>
<rect x="832.4" y="8.8" width="663.3" height="385.7" fill="none" stroke="#000" stroke-width="2.6"/>
<text transform="translate(781.92 403.4) scale(1 1.04)" font-size="25.4"> 00</text><path d="M763 0L583 0L583 1147Q518 1085 421 1028Q324 971 222 933L222 1107Q390 1186 499 1282Q608 1379 654 1466L763 1466Z" transform="matrix(0.012402 0 0 -0.012402 781.92 403.4)"/>
<text transform="translate(781.92 336.15) scale(1 1.04)" font-size="25.4">200</text>
<text transform="translate(781.92 268.9) scale(1 1.04)" font-size="25.4">300</text>
<text transform="translate(781.92 201.65) scale(1 1.04)" font-size="25.4">400</text>
<text transform="translate(781.92 134.4) scale(1 1.04)" font-size="25.4">500</text>
<text transform="translate(781.92 67.15) scale(1 1.04)" font-size="25.4">600</text>
<text transform="translate(825.45 422.1) scale(1 1.04)" font-size="25">0</text>
<text transform="translate(901.28 422.1) scale(1 1.04)" font-size="25">25000</text>
<text transform="translate(1004.92 422.1) scale(1 1.04)" font-size="25">50000</text>
<text transform="translate(1108.56 422.1) scale(1 1.04)" font-size="25">75000</text>
<text transform="translate(1205.25 422.1) scale(1 1.04)" font-size="25"> 00000</text><path d="M763 0L583 0L583 1147Q518 1085 421 1028Q324 971 222 933L222 1107Q390 1186 499 1282Q608 1379 654 1466L763 1466Z" transform="matrix(0.012207 0 0 -0.012207 1205.25 422.1)"/>
<text transform="translate(1308.89 422.1) scale(1 1.04)" font-size="25"> 25000</text><path d="M763 0L583 0L583 1147Q518 1085 421 1028Q324 971 222 933L222 1107Q390 1186 499 1282Q608 1379 654 1466L763 1466Z" transform="matrix(0.012207 0 0 -0.012207 1308.89 422.1)"/>
<text transform="translate(1412.53 422.1) scale(1 1.04)" font-size="25"> 50000</text><path d="M763 0L583 0L583 1147Q518 1085 421 1028Q324 971 222 933L222 1107Q390 1186 499 1282Q608 1379 654 1466L763 1466Z" transform="matrix(0.012207 0 0 -0.012207 1412.53 422.1)"/>
<text x="983" y="447.1" font-size="25.47">Strain Rate Before Interrupt (s</text>
<text transform="translate(1322 435) scale(1 1)" font-size="16">- </text><path d="M763 0L583 0L583 1147Q518 1085 421 1028Q324 971 222 933L222 1107Q390 1186 499 1282Q608 1379 654 1466L763 1466Z" transform="matrix(0.007812 0 0 -0.007812 1327.33 435)"/>
<text x="1336.5" y="447.1" font-size="25.47">)</text>
<g transform="translate(777 438.8) rotate(-90)"><text font-size="25.5">Flow Stress at 0.  Plastic strain (MPa)</text><path d="M763 0L583 0L583 1147Q518 1085 421 1028Q324 971 222 933L222 1107Q390 1186 499 1282Q608 1379 654 1466L763 1466Z" transform="matrix(0.012451 0 0 -0.012451 189.83 0)"/></g>
<path d="M850.3 17.9L857.6 25.2L850.3 32.5L843 25.2Z" fill="#b57cf8" stroke="#33006e" stroke-width="2.95" stroke-linejoin="miter"/>
<circle cx="850" cy="58.2" r="7.15" fill="#cc0000"/>
<circle cx="850.3" cy="91.5" r="5.42" fill="#bdeb78" stroke="#0f3a0f" stroke-width="3.65"/>
<text x="880.4" y="34.1" font-size="27">Flow Stress without Interrupt</text>
<text x="880.4" y="67.2" font-size="27">Flow Stress Before Interrupt</text>
<text x="880.4" y="100.6" font-size="27">Yield Stress at Reload</text>
</svg></body></html>
